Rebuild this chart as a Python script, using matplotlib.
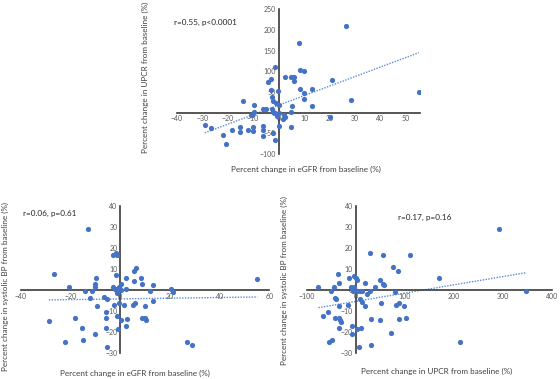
import numpy as np
import matplotlib
matplotlib.use("Agg")
import matplotlib.pyplot as plt

plt.rcParams['font.family'] = ['Lato', 'DejaVu Sans']

# Top panel: % change eGFR vs % change UPCR
egfr_top = [26.5, 8, 55, 28.5, 21, 20, 13.3, 13, 8.5, 10, 8.5, 10, 10, 2.5, 5, 6, 6,
            5.4, 5, 4.7, -1.5, -3, -4, -3, -0.4, -2.5, -2, -1, 0, -14, -9.5, -6, -5,
            -9.5, -11, -10.5, -2.6, -2, -1.3, -0.8, 0.3, 1.7, 2.4, 2.1, 0, -29, -26.5,
            -15.3, -15, -18.3, -12, -10.2, -10.2, -22, -20.5, -6, -6.3, -6, -2, -1.3]
upcr_top = [210, 168, 49, 31, 79, -11, 57, 15, 103, 100, 56, 48, 32, 87, 87, 87, 77,
            17, 1, -35, 110, 81, 73, 55, 52, 39, 29, 24, 19, 29, 19, 10, 8,
            2, -5, -6, 10, 2, -2, -8, 0, -15, -11, -6, -32, -31, -36,
            -35, -48, -42, -42, -35, -44, -54, -76, -32, -42, -56, -50, -67]

# Bottom left: % change eGFR vs % change systolic BP
egfr_bl = [-13, -26.5, -20.4, -14, -11.4, -10.2, -10, -9.7, -12, -9.4, -3, -1.6, -1.3,
           -1.6, -2.7, -1.9, -1.1, -0.5, -0.3, 0.3, 0.5, -6.4, -5.4, -2.4, -0.3, -5.6,
           -5.9, -1.3, 0.3, -5.9, -0.8, 2.4, 2.7, 1.6, 2.4, 2.3, 5.4, 6.2, 5.4, 5.1, 5.9,
           8.3, 8.7, 12, 13.4, 13.4, 9.8, 8.6, 10.1, 10.2, 20.5, 21.3, 55.2, -18.2, -28.7,
           -15.4, -10, -15.1, -22.1, -5.4, 26.8, 28.7]
sbp_bl = [29, 7.5, 1.3, -0.3, -0.3, 1.3, 3, 5.7, -3.6, -7.3, 16.7, 17.5, 16.5,
          7, 1.3, 0.6, -1.3, 0, 1.6, 2.9, 0.3, -3.2, -4.1, -7, -5.9, -10.2,
          -13.3, -12.4, -14.3, -18.1, -18.4, -16.8, -13.7, -7, 0.6, 5.7, 9.2, 10.6, 4.4, -7, -6.3,
          6, 2.9, -0.3, 2.5, -5.1, -7.3, -13.3, -13.3, -14.3, 0.5, -1.1, 5.1, -13, -14.8,
          -17.8, -20.6, -23.5, -24.4, -27, -24.8, -26]

# Bottom right: % change UPCR vs % change systolic BP
upcr_br = [-76, -51, -44, -37, -34, -14, -4, 1.4, 2.7, -9.5, -8, -6, -4, -1, 2, 8, 13,
           19, 23, 28.6, 39.5, -42, -41, -35, -15, 8, 13.6, 19, -56, -67, -42, -34, -33,
           -30, -35, -7, 2.7, 10.9, -7, -54, -49, 7, 30.6, 30, 56, 76, 86, 111, 49, 56,
           58, 80, 31, 49, 52, 82, 88, 99, 88, 103, 73, 169, 212, 293, 347]
sbp_br = [1.3, -0.3, 1.3, 7.5, 3.2, 5.6, 6.7, 5.7, 4.8, 1.6, 0.6, -0.3, 1.3, 0, -0.3, -0.3, -0.3,
          3.2, -1.9, -0.3, 1.3, -3.5, -4.1, -7.3, -7, -4.4, -5.4, -7.3, -10.3, -12.4, -13, -13.2, -14,
          -14.9, -17.8, -17, -18.4, -18.1, -20.6, -24.6, -23.5, -27, -25.9, 17.5, 16.7, 10.8, 9.2, 16.7, 4.8, 2.9,
          2.4, -1.1, -13.5, -14.1, -5.9, -7, -6.3, -7.3, -13.7, -13.3, -20.3, 6, -24.4, 29, -0.3]

blue = '#4472C4'
grey = '#595959'


def excel_scatter(ax, x, y, xlim, ylim, xticks, yticks):
    x = np.array(x)
    y = np.array(y)
    ax.scatter(x, y, s=14, color=blue, zorder=3, linewidths=0)
    # linear trendline over data range
    m, b = np.polyfit(x, y, 1)
    xs = np.linspace(x.min(), x.max(), 50)
    ax.plot(xs, m * xs + b, color='#5B8BD6', lw=1, ls=(0, (1, 1)), zorder=2)
    ax.set_xlim(*xlim)
    ax.set_ylim(*ylim)
    ax.set_xticks(xticks)
    ax.set_yticks(yticks)
    for side in ['top', 'right']:
        ax.spines[side].set_visible(False)
    ax.spines['left'].set_position(('data', 0))
    ax.spines['bottom'].set_position(('data', 0))
    for side in ['left', 'bottom']:
        ax.spines[side].set_color('#3a3a3a')
        ax.spines[side].set_linewidth(1.2)
    ax.tick_params(length=0, labelsize=5, labelcolor=grey, pad=2)
    ax.patch.set_alpha(0)


fig = plt.figure(figsize=(5.6, 3.79), dpi=100)

ax1 = fig.add_axes([0.3155, 0.5937, 0.4345, 0.3818])
excel_scatter(ax1, egfr_top, upcr_top, (-40, 55.5), (-100, 250),
              range(-40, 60, 10), range(-100, 300, 50))

ax2 = fig.add_axes([0.037, 0.0678, 0.444, 0.3887])
excel_scatter(ax2, egfr_bl, sbp_bl, (-40, 60), (-30, 40),
              range(-40, 80, 20), range(-30, 50, 10))

ax3 = fig.add_axes([0.5477, 0.0678, 0.4375, 0.3887])
excel_scatter(ax3, upcr_br, sbp_br, (-100, 400), (-30, 40),
              range(-100, 500, 100), range(-30, 50, 10))

lab = dict(fontsize=5.9, color='#404040')
fig.text(0.259, 0.796, 'Percent change in UPCR from baseline (%)', rotation=90,
         ha='center', va='center', **lab)
fig.text(0.546, 0.554, 'Percent change in eGFR from baseline (%)', ha='center', va='center', **lab)
fig.text(0.010, 0.243, 'Percent change in systolic BP from baseline (%)', rotation=90,
         ha='center', va='center', **lab)
fig.text(0.241, 0.015, 'Percent change in eGFR from baseline (%)', ha='center', va='center', **lab)
fig.text(0.508, 0.261, 'Percent change in systolic BP from baseline (%)', rotation=90,
         ha='center', va='center', **lab)
fig.text(0.779, 0.021, 'Percent change in UPCR from baseline (%)', ha='center', va='center', **lab)

ann = dict(fontsize=5.9, color='#262626', va='center', ha='left')
fig.text(0.311, 0.942, 'r=0.55, p<0.0001', **ann)
fig.text(0.041, 0.437, 'r=0.06, p=0.61', **ann)
fig.text(0.711, 0.427, 'r=0.17, p=0.16', **ann)

fig.savefig('out.png', dpi=100)
